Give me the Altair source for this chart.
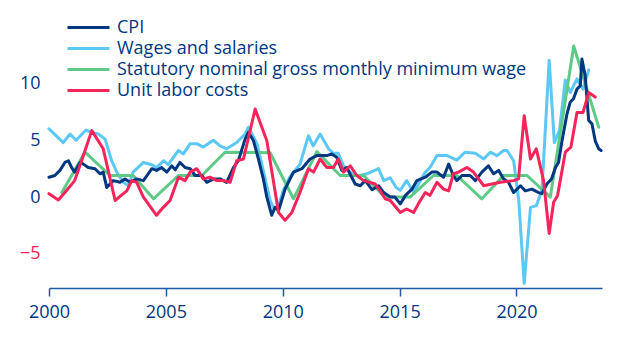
import altair as alt
import pandas as pd

# ---- data ----
series_names = ["CPI", "Wages and salaries",
                "Statutory nominal gross monthly minimum wage", "Unit labor costs"]
series_colors = ["#003781", "#5bc8f5", "#5dca87", "#f5245a"]

x_ticks = [2000, 2005, 2010, 2015, 2020]
y_ticks = [-5, 0, 5, 10]

cpi_t = [2000.00, 2000.25, 2000.47, 2000.68, 2000.83, 2000.97, 2001.10, 2001.33, 2001.47, 2001.68,
         2001.97, 2002.18, 2002.32, 2002.47, 2002.75, 2003.04, 2003.25, 2003.47, 2003.75, 2004.04,
         2004.40, 2004.60, 2004.82, 2005.04, 2005.25, 2005.40, 2005.60, 2005.82, 2006.04, 2006.25,
         2006.54, 2006.75, 2007.04, 2007.32, 2007.60, 2007.89, 2008.10, 2008.39, 2008.53, 2008.75,
         2008.96, 2009.17, 2009.32, 2009.53, 2009.67, 2009.82, 2010.10, 2010.46, 2010.82, 2011.17,
         2011.46, 2011.89, 2012.10, 2012.31, 2012.53, 2012.74, 2013.10, 2013.32, 2013.53, 2013.82,
         2014.10, 2014.32, 2014.60, 2014.80, 2015.03, 2015.25, 2015.53, 2015.74, 2016.10, 2016.38,
         2016.60, 2016.88, 2017.10, 2017.30, 2017.45, 2017.67, 2018.02, 2018.24, 2018.52, 2018.80,
         2019.02, 2019.24, 2019.45, 2019.66, 2019.88, 2020.17, 2020.38, 2020.66, 2020.95, 2021.09,
         2021.30, 2021.50, 2021.67, 2021.80, 2021.95, 2022.16, 2022.30, 2022.44, 2022.59, 2022.73,
         2022.80, 2022.94, 2023.09, 2023.23, 2023.37, 2023.52, 2023.62]
cpi_v = [1.75, 1.9, 2.35, 3.05, 3.2, 2.6, 2.2, 3.05, 2.9, 2.6,
         2.5, 2.05, 2.2, 0.85, 1.45, 1.3, 1.6, 1.3, 1.6, 1.45,
         2.5, 2.35, 2.6, 2.2, 2.75, 2.4, 3.05, 2.6, 2.5, 1.9,
         1.9, 1.3, 1.6, 1.6, 1.3, 2.6, 3.2, 5.1, 5.7, 4.95,
         3.35, 1.6, 0.0, -1.6, -0.9, -1.2, 0.7, 2.2, 2.5, 3.35,
         3.65, 3.65, 3.8, 3.5, 2.35, 2.6, 1.15, 1.0, 1.45, 0.65,
         1.0, 0.4, 0.0, 0.0, -0.6, 0.15, 0.7, 1.45, 1.75, 2.2,
         2.2, 1.75, 2.9, 1.9, 1.45, 1.9, 1.9, 1.45, 2.2, 2.75,
         2.05, 2.35, 1.6, 1.3, 0.4, 1.0, 0.55, 0.7, 0.4, 0.3,
         1.15, 1.6, 2.6, 3.05, 4.95, 7.3, 8.35, 8.65, 9.5, 9.8,
         12.15, 10.7, 6.75, 6.45, 4.95, 4.25, 4.1]

wage_t = [2000.00, 2000.61, 2000.90, 2001.16, 2001.58, 2001.83, 2002.11, 2002.40, 2002.68, 2002.90,
          2003.18, 2003.40, 2003.60, 2004.04, 2004.40, 2004.60, 2004.90, 2005.10, 2005.54, 2005.75,
          2006.04, 2006.32, 2006.60, 2007.03, 2007.32, 2007.60, 2008.03, 2008.39, 2008.53, 2008.90,
          2009.17, 2009.46, 2009.60, 2009.80, 2010.03, 2010.30, 2010.74, 2011.10, 2011.30, 2011.60,
          2011.96, 2012.17, 2012.38, 2012.60, 2013.04, 2013.30, 2013.60, 2014.10, 2014.32, 2014.60,
          2014.85, 2015.03, 2015.30, 2015.60, 2016.10, 2016.30, 2016.60, 2017.03, 2017.45, 2017.80,
          2018.24, 2018.60, 2018.88, 2019.17, 2019.45, 2019.60, 2019.88, 2020.10, 2020.33, 2020.60,
          2020.85, 2021.09, 2021.40, 2021.62, 2021.84, 2022.09, 2022.30, 2022.59, 2022.85, 2023.09]
wage_v = [6.0, 4.8, 5.55, 5.0, 5.9, 5.7, 5.55, 5.1, 3.2, 2.2,
          1.3, 1.0, 2.2, 3.05, 2.85, 2.6, 3.2, 2.85, 4.1, 3.8,
          4.7, 4.7, 4.4, 5.0, 4.5, 4.25, 4.8, 5.55, 6.15, 4.7,
          2.3, -0.3, -0.9, -0.9, 0.6, 1.75, 2.9, 5.4, 4.5, 5.55,
          4.25, 3.85, 3.85, 2.75, 1.9, 1.9, 2.05, 2.5, 1.45, 1.7,
          0.85, 0.6, 1.45, 0.4, 2.2, 2.6, 3.65, 3.65, 3.25, 3.95,
          3.85, 3.35, 3.95, 3.65, 4.1, 4.1, 3.2, -0.3, -7.6, -0.9,
          -0.75, 0.6, 12.05, 4.8, 5.85, 10.3, 9.2, 10.4, 9.5, 11.2]

minw_t = [2000.55, 2001.54, 2002.61, 2003.60, 2004.47, 2005.54, 2006.54, 2007.53, 2009.46, 2010.46,
          2011.46, 2012.46, 2013.46, 2014.38, 2015.45, 2016.45, 2017.45, 2018.52, 2019.45, 2020.45,
          2021.45, 2022.45, 2023.52]
minw_v = [0.4, 3.95, 1.9, 1.9, -0.15, 1.9, 1.9, 3.95, 3.9, -0.15,
          4.0, 1.9, 1.9, 0.0, 0.0, 1.9, 1.9, -0.15, 1.9, 1.9,
          0.0, 13.3, 6.15]

ulc_t = [2000.00, 2000.40, 2000.68, 2001.10, 2001.47, 2001.83, 2002.32, 2002.83, 2003.18, 2003.33,
         2003.54, 2003.75, 2004.04, 2004.60, 2004.89, 2005.18, 2005.54, 2005.82, 2006.04, 2006.32,
         2006.60, 2006.89, 2007.18, 2007.46, 2007.75, 2008.03, 2008.32, 2008.82, 2009.32, 2009.82,
         2010.10, 2010.39, 2010.74, 2011.10, 2011.32, 2011.60, 2011.89, 2012.17, 2012.38, 2012.60,
         2012.89, 2013.17, 2013.46, 2013.96, 2014.17, 2014.38, 2014.60, 2015.03, 2015.30, 2015.60,
         2015.80, 2016.10, 2016.30, 2016.60, 2016.88, 2017.10, 2017.30, 2017.52, 2017.88, 2018.16,
         2018.60, 2018.95, 2019.31, 2019.88, 2020.09, 2020.33, 2020.60, 2020.85, 2021.16, 2021.40,
         2021.59, 2021.76, 2022.09, 2022.33, 2022.59, 2022.85, 2023.09, 2023.37]
ulc_v = [0.3, -0.25, 0.4, 1.45, 3.65, 5.85, 4.25, -0.3, 0.3, 0.55,
         1.45, 1.3, 0.0, -1.6, -0.9, -0.3, 1.75, 1.45, 2.2, 2.5,
         1.6, 1.75, 1.45, 1.45, 1.3, 3.2, 3.35, 7.75, 4.95, -1.35,
         -2.05, -1.35, 0.4, 2.5, 2.2, 3.35, 2.6, 2.6, 3.35, 2.2,
         2.75, 1.9, 1.45, 1.15, 0.55, -0.15, -0.3, -1.35, -1.05, -1.35,
         -0.6, 0.4, 0.15, 1.3, 0.7, 0.55, 2.05, 2.2, 2.6, 2.2,
         1.0, 1.15, 1.3, 1.45, 1.6, 7.15, 3.35, 4.25, 1.45, -3.2,
         -0.45, 0.15, 3.95, 4.4, 7.45, 7.45, 9.2, 8.8]

# drawing order: wages, minimum wage, CPI, unit labor costs on top
rows = []
for name, ts, vs in [(series_names[1], wage_t, wage_v),
                     (series_names[2], minw_t, minw_v),
                     (series_names[0], cpi_t, cpi_v),
                     (series_names[3], ulc_t, ulc_v)]:
    for t, v in zip(ts, vs):
        rows.append({"series": name, "t": t, "v": v})
df = pd.DataFrame(rows)

NAVY = "#003781"
RED = "#f5245a"
FONT = "Open Sans"

chart = alt.Chart(df).mark_line(strokeWidth=3, strokeJoin="round", strokeCap="round").encode(
    x=alt.X("t:Q",
            scale=alt.Scale(domain=[2000, 2023.66], nice=False, zero=False),
            axis=alt.Axis(values=x_ticks, format="d", title=None, grid=False,
                          domainColor="#1f5aa3", domainWidth=1.5, tickColor="#1f5aa3",
                          tickWidth=1.5, tickSize=8, labelPadding=7, labelFlush=False,
                          labelColor=NAVY, labelFontSize=18, labelFont=FONT)),
    y=alt.Y("v:Q",
            scale=alt.Scale(domain=[-8, 14], nice=False, zero=False),
            axis=alt.Axis(values=y_ticks, title=None, grid=False, domain=False, ticks=False,
                          labelPadding=9, labelFontSize=18, labelFont=FONT,
                          labelColor={"condition": {"test": "datum.value < 0", "value": RED},
                                      "value": NAVY})),
    color=alt.Color("series:N",
                    scale=alt.Scale(domain=series_names, range=series_colors),
                    legend=alt.Legend(title=None, orient="none", legendX=17, legendY=-22,
                                      symbolType="M-1,0H3.2", symbolSize=400,
                                      symbolStrokeWidth=3, labelOffset=28,
                                      labelFontSize=18, labelFont=FONT, labelColor=NAVY,
                                      rowPadding=0, padding=0, labelLimit=600)),
).properties(
    width=553, height=250,
    autosize=alt.AutoSizeParams(type="none"),
    padding={"left": 49, "top": 38, "right": 27, "bottom": 65},
).configure_view(stroke=None)

chart.save("out.html", embed_options={"renderer": "svg", "actions": False})
